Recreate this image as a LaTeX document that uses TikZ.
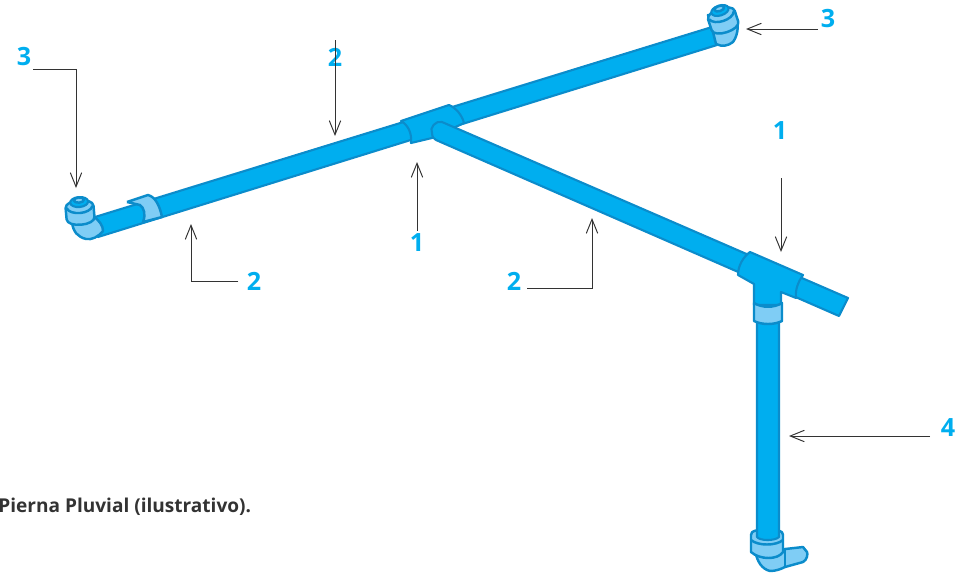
\documentclass[tikz,border=0pt]{standalone}
\usepackage{fontspec}
\setmainfont{Open Sans}
\usetikzlibrary{arrows.meta}
\definecolor{azul}{HTML}{00AEEF}
\definecolor{azuloscuro}{HTML}{0B8CCB}
\definecolor{azulclaro}{HTML}{7FCDF5}
\tikzset{
  tubo/.style={draw=azuloscuro,fill=azul,line width=1.2pt,line join=round},
  claro/.style={draw=azuloscuro,fill=azulclaro,line width=1.4pt,line join=round},
  rotulo/.style={text=azul,font=\fontsize{14.3}{14}\selectfont\bfseries,inner sep=0pt},
  flecha/.style={draw=black!80,line width=0.55pt,-{Straight Barb[length=8pt,width=6.5pt]}}
}
\newcommand{\collar}[3]{
\begin{scope}[shift={(#1,#2)},rotate=#3]
\draw[claro] (-14,-5) .. controls (-14,-14) and (14,-14) .. (14,-5) -- (14,6) .. controls (14,15) and (-14,15) .. (-14,6) -- cycle;
\draw[claro] (-13,-5) .. controls (-10,3) and (10,3) .. (13,-5);
\draw[tubo] (0,-10) ellipse (9 and 5);
\draw[claro] (0,-12) ellipse (5 and 2.6);
\end{scope}
}
\begin{document}
\begin{tikzpicture}[x=0.02cm,y=-0.02cm]
\useasboundingbox (0,0) rectangle (955,572);
\draw[tubo] (95,217) -- (712,27) -- (717,45) -- (98,237) -- cycle;
\draw[claro] (127,202) -- (148,195) .. controls (156,197) and (160,207) .. (162,217) -- (143,222) .. controls (146,214) and (144,208) .. (140,205) -- (127,202);
\draw[claro] (93,216) .. controls (100,221) and (103,226) .. (103,231) .. controls (98,237) and (92,240) .. (86,239) .. controls (78,237) and (73,232) .. (72,222) -- cycle;
\collar{80}{212}{5}
\draw[claro] (712,28) -- (708,15) -- (735,15) .. controls (739,20) and (739,34) .. (733,42) .. controls (728,46) and (722,47) .. (716,44) -- cycle;
\collar{723}{20}{18}
\draw[tubo] (401,121) -- (449,105) .. controls (456,108) and (462,115) .. (464,123) -- (432,138) -- (411,143) .. controls (412,133) and (408,125) .. (401,121) -- cycle;
\draw[tubo] (848,298) -- (442,122) .. controls (436,120) and (429,128) .. (432,133) .. controls (432,137) and (434,139) .. (436,140) -- (839,316) -- cycle;
\draw[claro] (755,550) .. controls (757,562) and (762,569) .. (770,571) .. controls (776,571) and (781,569) .. (785,567) -- (803,562) .. controls (807,560) and (808,554) .. (807,552) -- (803,547) -- (785,549) -- cycle;
\draw[claro] (785,549) -- (785,566);
\draw[claro] (751,535) .. controls (751,530) and (757,530) .. (767,530) .. controls (777,530) and (783,530) .. (783,535) -- (783,552) .. controls (778,560) and (760,560) .. (751,552) -- cycle;
\draw[claro] (751,540) .. controls (758,546) and (776,546) .. (783,540);
\draw[tubo] (757,318) -- (757,537) .. controls (760,541) and (775,541) .. (779,537) -- (779,318) -- cycle;
\draw[tubo] (750,252) -- (803,275) .. controls (798,282) and (795,290) .. (796,298) -- (781,292) -- (781,305) -- (754,305) -- (754,284) -- (738,275) .. controls (738,266) and (743,257) .. (750,252) -- cycle;
\draw[claro] (754,303) .. controls (762,308) and (774,308) .. (782,303) -- (782,321) .. controls (774,325) and (762,325) .. (754,321) -- cycle;
\node[rotulo] (tresA) at (24,57) {3};
\node[rotulo] (dosA) at (335,57) {2};
\node[rotulo] (unoA) at (417,243) {1};
\node[rotulo] (dosB) at (254,281) {2};
\node[rotulo] (dosC) at (514,281) {2};
\node[rotulo] (unoB) at (780,131) {1};
\node[rotulo] (tresB) at (828,19) {3};
\node[rotulo] (cuatro) at (948,428) {4};
\node[anchor=base west,inner sep=0pt,font=\fontsize{10.85}{10}\selectfont\bfseries,text=black!80] (pie) at (-2,512.5) {Pierna Pluvial (ilustrativo).};
\coordinate (pA) at (76,188);
\coordinate (iA) at (33,69);
\coordinate (iB) at (335,40);
\coordinate (pB) at (335,136);
\coordinate (pC) at (417,162);
\coordinate (pD) at (191,224);
\coordinate (iE) at (527,288);
\coordinate (pE) at (592,218);
\coordinate (iF) at (781,178);
\coordinate (pF) at (781,252);
\coordinate (iG) at (818,29);
\coordinate (pG) at (746,29);
\coordinate (iH) at (930,436);
\coordinate (pH) at (789,436);
\draw[flecha] (iA) -| (pA);
\draw[flecha] (iB) -- (pB);
\draw[flecha] (unoA.north) ++(0,-3) -- (pC);
\draw[flecha] (dosB.west) ++(-8,0) -| (pD);
\draw[flecha] (iE) -| (pE);
\draw[flecha] (iF) -- (pF);
\draw[flecha] (iG) -- (pG);
\draw[flecha] (iH) -- (pH);
\end{tikzpicture}
\end{document}
